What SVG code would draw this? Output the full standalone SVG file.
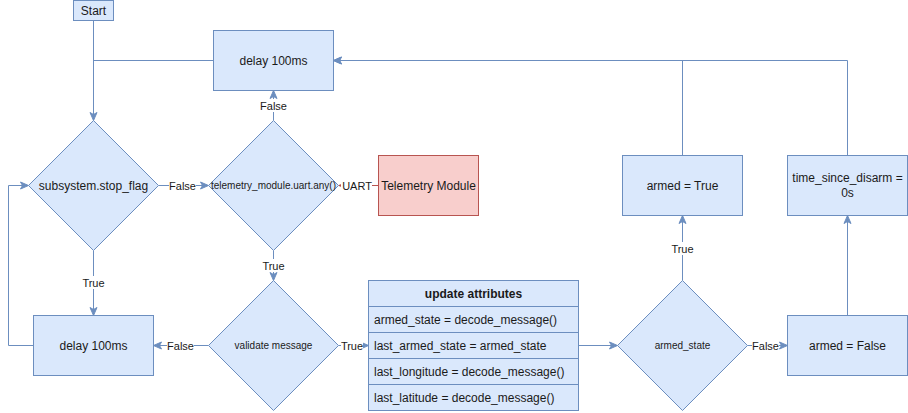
<svg xmlns="http://www.w3.org/2000/svg" width="908" height="413" viewBox="0 0 908 413">
<style>
.n{fill:#dae8fc;stroke:#6c8ebf;stroke-width:1}
.r{fill:#f8cecc;stroke:#b85450;stroke-width:1}
.c{fill:none;stroke:#6c8ebf;stroke-width:1}
.cr{fill:none;stroke:#b85450;stroke-width:1}
text{font-family:"Liberation Sans",Arial,sans-serif;fill:#1a1a1a}
.t12{font-size:12px;text-anchor:middle}
.t10{font-size:10px;text-anchor:middle}
.l{font-size:11px;text-anchor:middle}
.row{font-size:12px;text-anchor:start}
.b{font-weight:bold}
.lb{fill:#ffffff;stroke:none}
</style>
<defs>
<marker id="arr" viewBox="0 0 10 10" refX="9" refY="5" markerWidth="10" markerHeight="10" markerUnits="userSpaceOnUse" orient="auto">
<path d="M1,1.5 L9,5 L1,8.5 L3,5 Z" fill="#6c8ebf" stroke="#6c8ebf" stroke-width="1"/>
</marker>
<marker id="arrR" viewBox="0 0 10 10" refX="9" refY="5" markerWidth="6" markerHeight="6" markerUnits="userSpaceOnUse" orient="auto">
<path d="M1,1.5 L9,5 L1,8.5 L3,5 Z" fill="#b85450" stroke="#b85450" stroke-width="1"/>
</marker>
</defs>
<rect width="908" height="413" fill="#ffffff"/>
<g id="connectors">
<path class="c" d="M93.5,20.5 V120.5" marker-end="url(#arr)"/>
<path class="c" d="M213.5,60.5 H93.5"/>
<path class="c" d="M158.5,185.5 H208.5" marker-end="url(#arr)"/>
<path class="c" d="M273.5,120.5 V90.5" marker-end="url(#arr)"/>
<path class="cr" d="M378.5,185.5 H338.5" marker-end="url(#arrR)"/>
<path class="c" d="M273.5,250.5 V280.5" marker-end="url(#arr)"/>
<path class="c" d="M93.5,250.5 V315.5" marker-end="url(#arr)"/>
<path class="c" d="M33.5,345.5 H8.5 V185.5 H28.5" marker-end="url(#arr)"/>
<path class="c" d="M208.5,345.5 H153.5" marker-end="url(#arr)"/>
<path class="c" d="M338.5,345.5 H368.5" marker-end="url(#arr)"/>
<path class="c" d="M578.5,345.5 H617.5" marker-end="url(#arr)"/>
<path class="c" d="M682.5,280.5 V215.5" marker-end="url(#arr)"/>
<path class="c" d="M747.5,345.5 H787.5" marker-end="url(#arr)"/>
<path class="c" d="M682.5,155.5 V60.5 H333.5" marker-end="url(#arr)"/>
<path class="c" d="M847.5,315.5 V215.5" marker-end="url(#arr)"/>
<path class="c" d="M847.5,155.5 V60.5 H333.5" marker-end="url(#arr)"/>
</g>
<g id="labels">
<rect class="lb" x="169" y="179" width="27" height="13"/>
<text class="l" x="182.5" y="189.5">False</text>
<rect class="lb" x="260" y="99" width="27" height="13"/>
<text class="l" x="273.5" y="109.5">False</text>
<rect class="lb" x="341" y="179" width="31" height="13"/>
<text class="l" x="357" y="189.5">UART</text>
<rect class="lb" x="262" y="259" width="23" height="13"/>
<text class="l" x="273.5" y="269.5">True</text>
<rect class="lb" x="82" y="276" width="23" height="13"/>
<text class="l" x="93.5" y="286.5">True</text>
<rect class="lb" x="167" y="339" width="27" height="13"/>
<text class="l" x="180.5" y="349.5">False</text>
<rect class="lb" x="341" y="339" width="22" height="13"/>
<text class="l" x="352" y="349.5">True</text>
<rect class="lb" x="671" y="242" width="23" height="13"/>
<text class="l" x="682.5" y="252.5">True</text>
<rect class="lb" x="752" y="339" width="27" height="13"/>
<text class="l" x="765.5" y="349.5">False</text>
</g>
<g id="start">
<rect class="n" x="73.5" y="0.5" width="40" height="20"/>
<text class="t12" x="93.5" y="14.5">Start</text>
</g>
<g id="delay-top">
<rect class="n" x="213.5" y="30.5" width="120" height="60"/>
<text class="t12" x="273.5" y="64.5">delay 100ms</text>
</g>
<g id="stop-flag">
<polygon class="n" points="28.5,185.5 93.5,120.5 158.5,185.5 93.5,250.5"/>
<text class="t12" x="93.5" y="189.5">subsystem.stop_flag</text>
</g>
<g id="uart-any">
<polygon class="n" points="208.5,185.5 273.5,120.5 338.5,185.5 273.5,250.5"/>
<text class="t10" x="273.5" y="189">telemetry_module.uart.any()</text>
</g>
<g id="telemetry-module">
<rect class="r" x="378.5" y="155.5" width="100" height="60"/>
<text class="t12" x="428.5" y="189.5">Telemetry Module</text>
</g>
<g id="delay-bottom">
<rect class="n" x="33.5" y="315.5" width="120" height="60"/>
<text class="t12" x="93.5" y="349.5">delay 100ms</text>
</g>
<g id="validate">
<polygon class="n" points="208.5,345.5 273.5,280.5 338.5,345.5 273.5,410.5"/>
<text class="t10" x="273.5" y="349">validate message</text>
</g>
<g id="update-attributes">
<rect class="n" x="368.5" y="280.5" width="210" height="130"/>
<path class="c" d="M368.5,306.5 H578.5 M368.5,332.5 H578.5 M368.5,358.5 H578.5 M368.5,384.5 H578.5"/>
<text class="t12 b" x="473.5" y="297.5">update attributes</text>
<text class="row" x="374" y="323.5">armed_state = decode_message()</text>
<text class="row" x="374" y="349.5">last_armed_state = armed_state</text>
<text class="row" x="374" y="375.5">last_longitude = decode_message()</text>
<text class="row" x="374" y="401.5">last_latitude = decode_message()</text>
</g>
<g id="armed-state">
<polygon class="n" points="617.5,345.5 682.5,280.5 747.5,345.5 682.5,410.5"/>
<text class="t10" x="682.5" y="349">armed_state</text>
</g>
<g id="armed-true">
<rect class="n" x="622.5" y="155.5" width="120" height="60"/>
<text class="t12" x="682.5" y="189.5">armed = True</text>
</g>
<g id="time-since-disarm">
<rect class="n" x="787.5" y="155.5" width="120" height="60"/>
<text class="t12" x="847.5" y="182">time_since_disarm =</text>
<text class="t12" x="847.5" y="197">0s</text>
</g>
<g id="armed-false">
<rect class="n" x="787.5" y="315.5" width="120" height="60"/>
<text class="t12" x="847.5" y="349.5">armed = False</text>
</g>
</svg>
